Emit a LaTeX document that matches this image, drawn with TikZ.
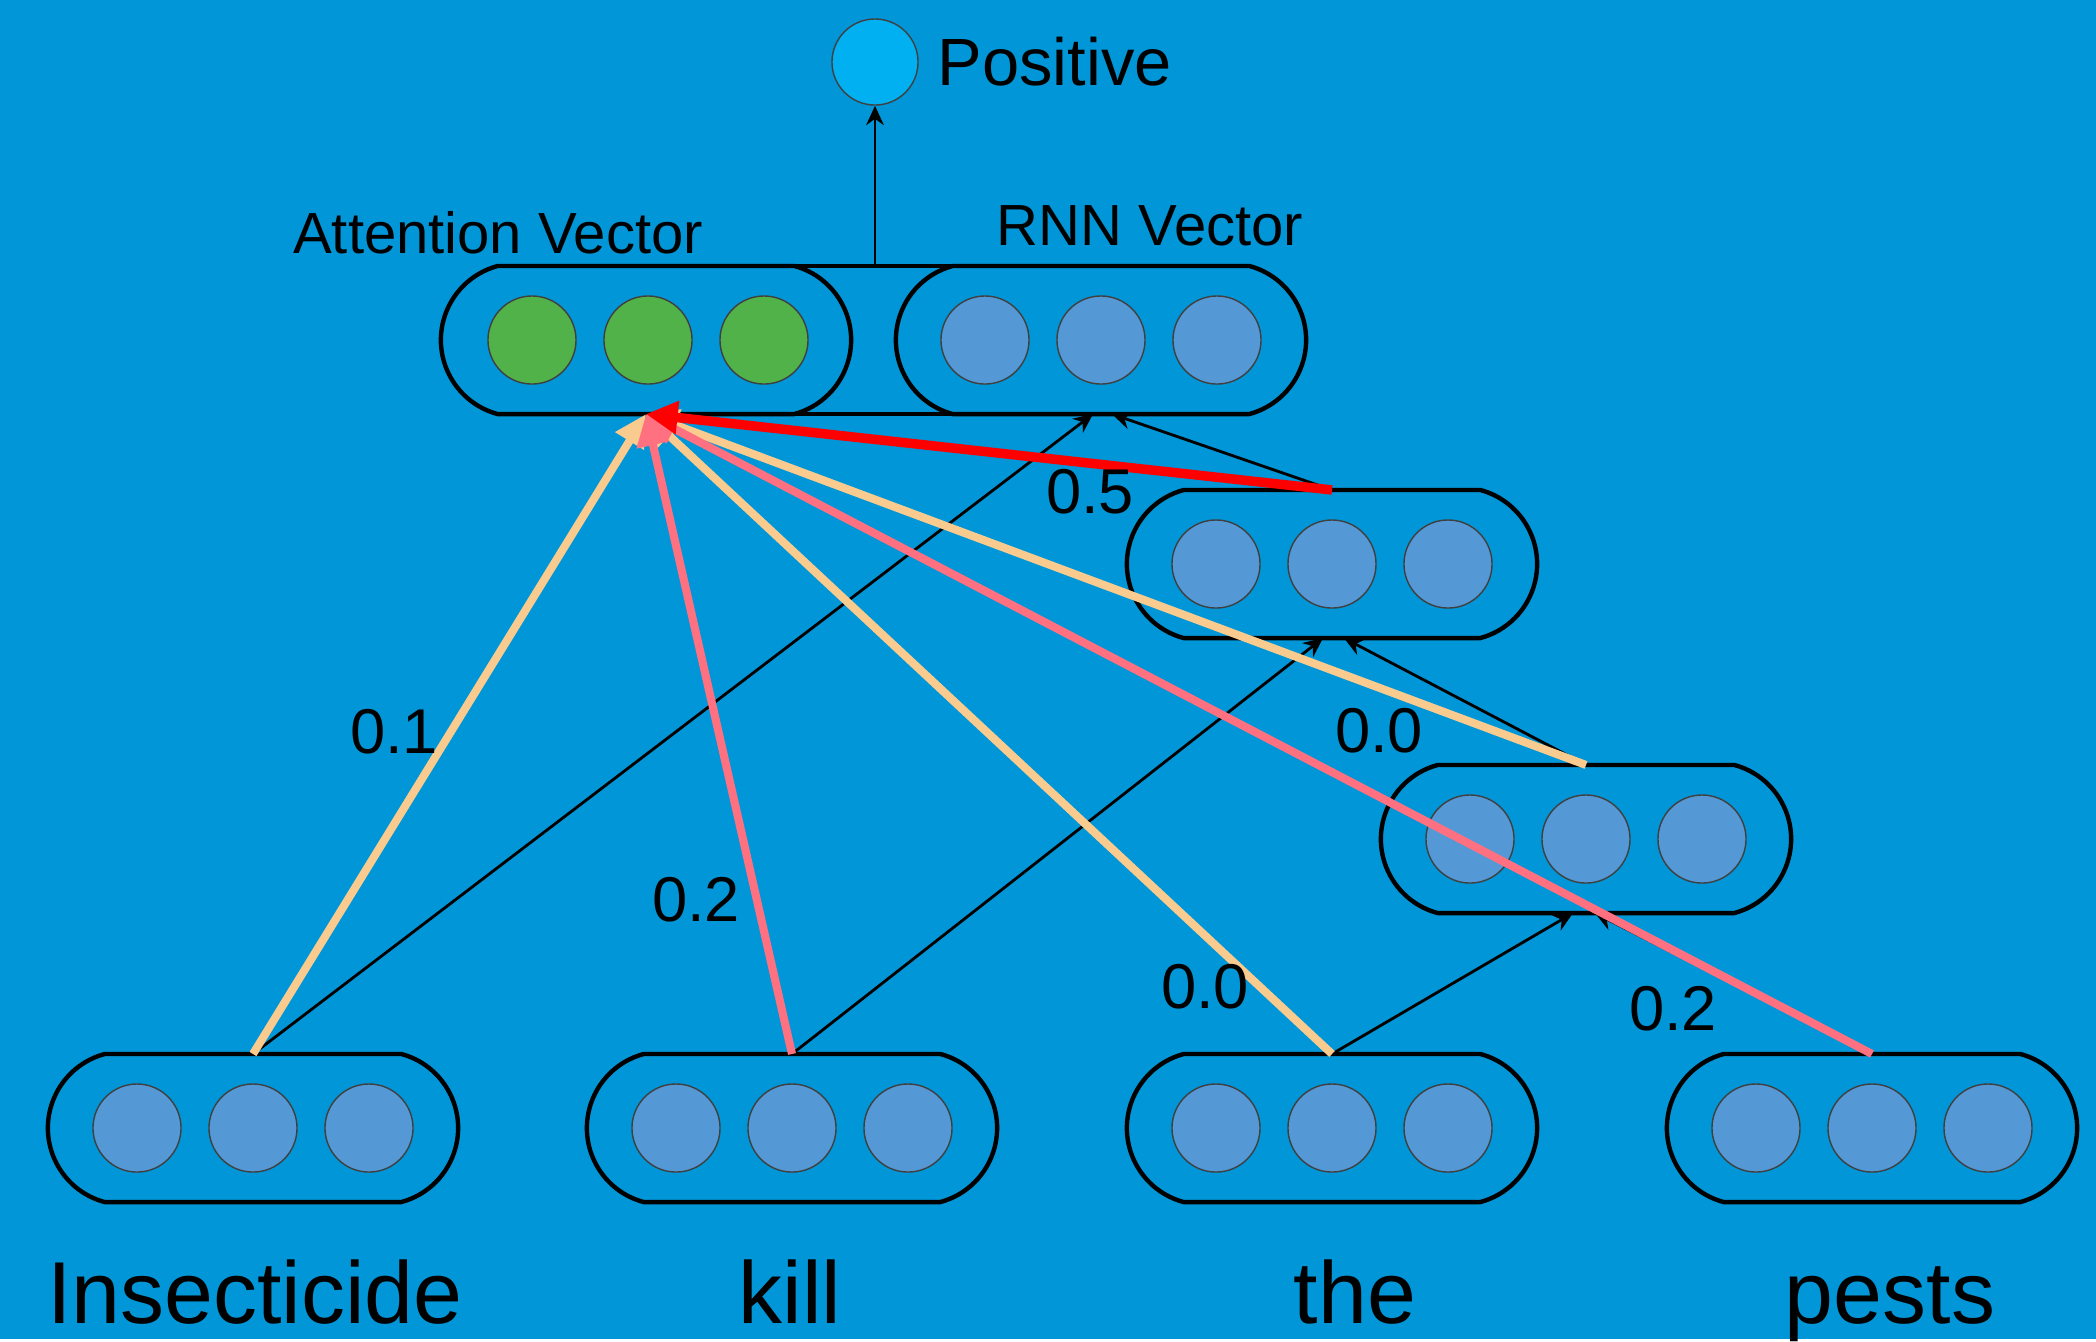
\documentclass[tikz,border=0pt]{standalone}
\usepackage{fontspec}
\setmainfont{Liberation Sans}
\usetikzlibrary{arrows.meta, calc, shapes.misc}

\definecolor{bgblue}{RGB}{0,150,215}
\definecolor{posblue}{RGB}{0,176,240}
\definecolor{unitblue}{RGB}{84,152,214}
\definecolor{unitgreen}{RGB}{80,178,72}
\definecolor{lowatt}{RGB}{250,203,143}
\definecolor{midatt}{RGB}{255,112,128}
\definecolor{highatt}{RGB}{255,0,0}

\begin{document}
\begin{tikzpicture}[x=0.01cm, y=-0.01cm,
                vec box/.style={rounded rectangle, rounded rectangle arc length=150,
                    draw=black, line width=1.25pt, minimum width=4.1cm, minimum height=1.48cm,
                    inner sep=0pt, outer sep=0pt},
                blue unit/.style={circle, draw=black!75, line width=0.4pt, fill=unitblue,
                    minimum size=0.88cm, inner sep=0pt},
                green unit/.style={blue unit, fill=unitgreen},
                vec label/.style={font=\fontsize{16.5}{20}\selectfont, anchor=base, inner sep=0pt},
                word/.style={font=\fontsize{25}{30}\selectfont, anchor=base, inner sep=0pt},
                weight/.style={font=\fontsize{18}{22}\selectfont, inner sep=0pt},
                rnn arrow/.style={-{Stealth[length=5.5pt,width=5pt]}, line width=0.8pt},
                att arrow/.style={-{Triangle[length=9pt,width=9pt]}, line width=2.3pt}]
                % Background
                \fill[bgblue] (0,0) rectangle (2096,1339);

                % Output unit on top
                \node[circle, draw=black!75, line width=0.4pt, fill=posblue, minimum size=0.86cm, inner sep=0pt] (pos) at (875,62) {};
                \node[font=\fontsize{19}{23}\selectfont, anchor=base west, inner sep=0pt] (pos label) at (937,85) {Positive};

                % Attention vector and RNN vector, joined top and bottom
                \node[vec box] (att) at (646,340) {};
                \node[vec box] (rnn) at (1101,340) {};
                \draw[line width=1.25pt] (att.north) -- (rnn.north);
                \draw[line width=1.25pt] (att.south) -- (rnn.south);
                \node[vec label] (att label) at (498,253) {Attention Vector};
                \node[vec label] (rnn label) at (1150,245) {RNN Vector};

                % Hidden states
                \node[vec box] (h1) at (1332,564) {};
                \node[vec box] (h2) at (1586,839) {};

                % Word vectors
                \node[vec box] (w1) at (253,1128) {};
                \node[vec box] (w2) at (792,1128) {};
                \node[vec box] (w3) at (1332,1128) {};
                \node[vec box] (w4) at (1872,1128) {};

                % Units inside the vectors
                \foreach \v in {rnn,h1,h2,w1,w2,w3,w4}
                    \foreach \i/\dx in {1/-116,2/0,3/116}
                        \node[blue unit] (\v-\i) at ($(\v)+(\dx,0)$) {};
                \foreach \i/\dx in {1/-114,2/2,3/118}
                    \node[green unit] (att-\i) at ($(att)+(\dx,0)$) {};

                % Words
                \node[word] (insecticide) at (255,1323) {Insecticide};
                \node[word] (kill) at (790,1323) {kill};
                \node[word] (the) at (1355,1323) {the};
                \node[word] (pests) at (1890,1323) {pests};

                % RNN links
                \draw[rnn arrow] (w4.north) -- ($(h2.south)+(9,0)$);
                \draw[rnn arrow] (w3.north) -- ($(h2.south)+(-13,0)$);
                \draw[rnn arrow] (h2.north) -- ($(h1.south)+(12,0)$);
                \draw[rnn arrow] (w2.north) -- ($(h1.south)+(-9,0)$);
                \draw[rnn arrow] (h1.north) -- ($(rnn.south)+(11,0)$);
                \draw[rnn arrow] (w1.north) -- ($(rnn.south)+(-8,0)$);
                \draw[rnn arrow] (pos |- att.north) -- (pos);

                % Attention links, weakest first
                \draw[att arrow, lowatt] (w1.north) -- (att.south);
                \draw[att arrow, lowatt] (w3.north) -- (att.south);
                \draw[att arrow, lowatt] (h2.north) -- (att.south);
                \draw[att arrow, midatt] (w2.north) -- (att.south);
                \draw[att arrow, midatt] (w4.north) -- (att.south);
                \draw[att arrow, highatt, line width=2.7pt] (h1.north) -- (att.south);

                % Attention weights
                \node[weight] (wt-ins) at (394,732) {0.1};
                \node[weight] (wt-kill) at (696,900) {0.2};
                \node[weight] (wt-the) at (1205,987) {0.0};
                \node[weight] (wt-h1) at (1090,492) {0.5};
                \node[weight] (wt-h2) at (1379,731) {0.0};
                \node[weight] (wt-pests) at (1673,1009) {0.2};
            \end{tikzpicture}
\end{document}
